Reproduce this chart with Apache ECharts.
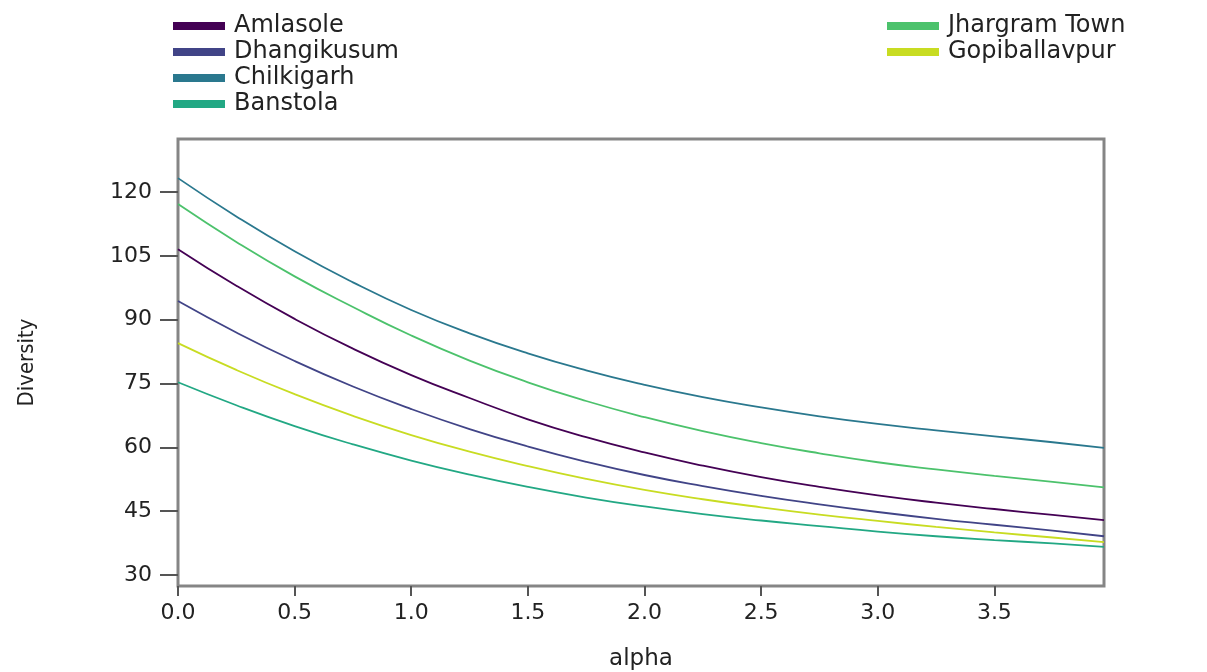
<!DOCTYPE html>
<html>
<head>
<meta charset="utf-8">
<title>Diversity profiles</title>
<script src="https://cdn.jsdelivr.net/npm/echarts@6/dist/echarts.min.js"></script>
<style>
  html, body { margin: 0; padding: 0; background: #fff; }
  #chart { width: 1207px; height: 672px; }
</style>
</head>
<body>
<div id="chart"></div>
<script>
// alpha values along the x axis
const alphaValues = [0, 0.25, 0.5, 0.75, 1.0, 1.25, 1.5, 1.75, 2.0, 2.25, 2.5, 2.75, 3.0, 3.25, 3.5, 3.75, 3.97]

// diversity profile per site
const amlasole      = [106.6, 98.0, 90.2, 83.2, 77.0, 71.6, 66.6, 62.4, 58.8, 55.7, 53.0, 50.7, 48.7, 47.0, 45.5, 44.1, 42.9]
const dhangikusum   = [94.4, 87.0, 80.3, 74.3, 69.0, 64.3, 60.2, 56.6, 53.5, 50.9, 48.6, 46.6, 44.8, 43.2, 41.8, 40.4, 39.1]
const chilkigarh    = [123.3, 114.3, 106.1, 98.8, 92.3, 86.8, 82.1, 78.1, 74.7, 71.8, 69.4, 67.3, 65.5, 64.0, 62.6, 61.2, 59.9]
const banstola      = [75.3, 69.9, 65.0, 60.7, 56.9, 53.6, 50.7, 48.2, 46.1, 44.3, 42.8, 41.5, 40.2, 39.1, 38.2, 37.4, 36.6]
const jhargramTown  = [117.2, 108.3, 100.2, 93.0, 86.3, 80.4, 75.3, 70.9, 67.1, 63.8, 61.0, 58.6, 56.5, 54.8, 53.3, 51.9, 50.6]
const gopiballavpur = [84.5, 78.2, 72.5, 67.4, 62.9, 59.0, 55.6, 52.6, 50.0, 47.8, 45.9, 44.2, 42.7, 41.3, 40.0, 38.8, 37.7]

// tick labels
const xTicks = [0, 0.5, 1.0, 1.5, 2.0, 2.5, 3.0, 3.5]
const yTicks = [30, 45, 60, 75, 90, 105, 120]

const sites = [
  { name: 'Amlasole', values: amlasole, color: '#440154' },
  { name: 'Dhangikusum', values: dhangikusum, color: '#414487' },
  { name: 'Chilkigarh', values: chilkigarh, color: '#2a788e' },
  { name: 'Banstola', values: banstola, color: '#22a884' },
  { name: 'Jhargram Town', values: jhargramTown, color: '#4cc26c' },
  { name: 'Gopiballavpur', values: gopiballavpur, color: '#c8dc22' }
]

const chart = echarts.init(document.getElementById('chart'))

// 图例样式 (two columns like the original)
const legendBase = {
  orient: 'vertical',
  top: 9,
  itemWidth: 52,
  itemHeight: 8,
  itemGap: 2,
  icon: 'rect',
  textStyle: {
    fontFamily: 'DejaVu Sans',
    fontSize: 24,
    lineHeight: 24,
    color: '#222',
    padding: [0, 0, 0, 4]
  }
}

chart.setOption({
  animation: false,
  backgroundColor: '#fff',
  legend: [
    Object.assign({ data: sites.slice(0, 4).map(s => s.name), left: 168 }, legendBase),
    Object.assign({ data: sites.slice(4).map(s => s.name), left: 882 }, legendBase)
  ],
  grid: {
    left: 178,
    right: 103,
    top: 139,
    bottom: 86,
    outerBoundsMode: 'none',
    show: true,
    borderColor: '#858585',
    borderWidth: 3
  },
  xAxis: {
    type: 'value',
    min: 0,
    max: 3.97,
    name: 'alpha',
    nameLocation: 'middle',
    nameGap: 62,
    nameTextStyle: { fontFamily: 'DejaVu Sans', fontSize: 23, color: '#222' },
    axisLine: { show: false },
    axisTick: {
      show: true,
      length: 10,
      customValues: xTicks,
      lineStyle: { color: '#555', width: 2 }
    },
    axisLabel: {
      customValues: xTicks,
      margin: 16,
      fontFamily: 'DejaVu Sans',
      fontSize: 22,
      color: '#222',
      formatter: v => v.toFixed(1)
    },
    splitLine: { show: false }
  },
  yAxis: {
    type: 'value',
    min: 27.4,
    max: 132.5,
    name: 'Diversity',
    nameLocation: 'middle',
    nameGap: 140,
    nameRotate: 90,
    nameTextStyle: { fontFamily: 'DejaVu Sans Condensed', fontSize: 22, color: '#222' },
    axisLine: { show: false },
    axisTick: {
      show: true,
      length: 18,
      customValues: yTicks,
      lineStyle: { color: '#555', width: 2 }
    },
    axisLabel: {
      customValues: yTicks,
      margin: 26,
      fontFamily: 'DejaVu Sans',
      fontSize: 22,
      color: '#222'
    },
    splitLine: { show: false }
  },
  series: sites.map(s => ({
    name: s.name,
    type: 'line',
    smooth: true,
    symbol: 'none',
    data: alphaValues.map((a, i) => [a, s.values[i]]),
    lineStyle: { color: s.color, width: 1.8 },
    itemStyle: { color: s.color }
  }))
})

window.addEventListener('resize', () => chart.resize())
</script>
</body>
</html>
